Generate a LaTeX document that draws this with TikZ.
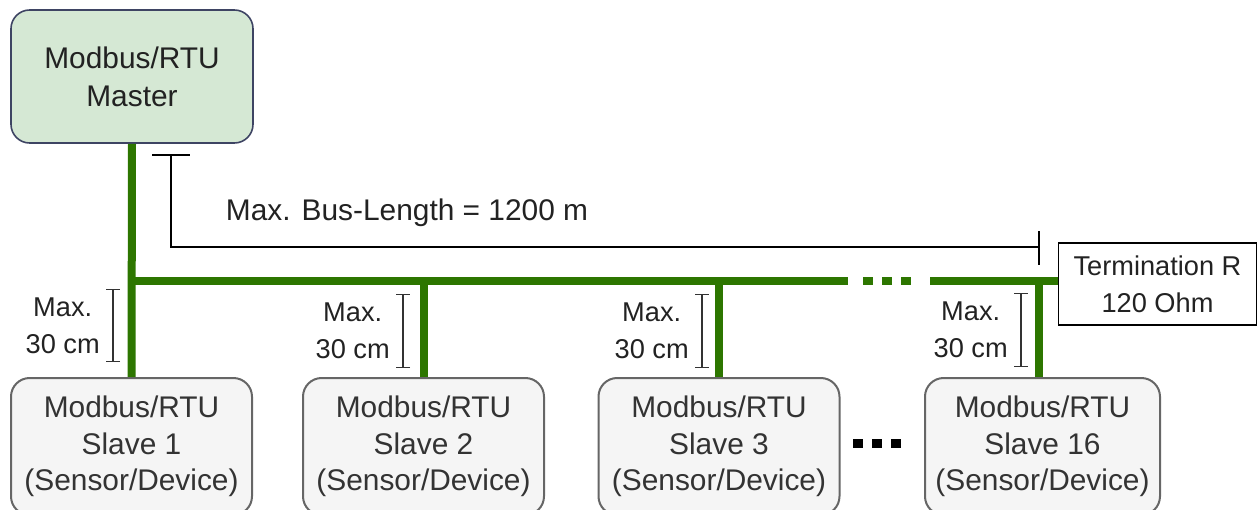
\documentclass[tikz,border=0pt]{standalone}
\usepackage{fontspec}
\setmainfont{Liberation Sans}
\usetikzlibrary{calc, positioning}
\usetikzlibrary{arrows.meta}

\definecolor{busgreen}{HTML}{2D7600}
\definecolor{masterfill}{HTML}{D5E8D4}
\definecolor{masterdraw}{HTML}{3E4463}
\definecolor{slavefill}{HTML}{F5F5F5}
\definecolor{slavedraw}{HTML}{666666}
\definecolor{txt}{HTML}{222222}

\begin{document}
\begin{tikzpicture}[x=0.75pt,y=-0.75pt,
  masterbox/.style={draw=masterdraw,fill=masterfill,line width=1.2pt,rounded corners=14pt,
    minimum width=181.5pt,minimum height=99.75pt,align=center,text=txt,
    font=\fontsize{22.4}{28.5}\selectfont},
  slavebox/.style={draw=slavedraw,fill=slavefill,line width=1.5pt,rounded corners=14pt,
    minimum width=180.75pt,minimum height=102.75pt,anchor=north,align=center,text=black!80,
    font=\fontsize{22.4}{27.4}\selectfont},
  termbox/.style={draw=black,line width=1pt,minimum width=148.5pt,minimum height=61.5pt,
    align=center,text=txt,font=\fontsize{20.4}{27.6}\selectfont},
  bus/.style={busgreen,line width=6pt},
  dimline/.style={black,line width=1.5pt},
  bracket/.style={black!80,line width=0.9pt,{Bar[width=10.5pt]}-{Bar[width=10.5pt]}},
  maxlabel/.style={align=center,inner sep=0pt,anchor=east,text=txt,
    font=\fontsize{20.4}{27.6}\selectfont}]
\useasboundingbox (0,0) rectangle (1257,510);

% boxes
\node[masterbox] (master) at (132,76.5) {Modbus/RTU\\Master};
\node[slavebox] (slave1) at (131.5,377) {Modbus/RTU\\Slave 1\\(Sensor/Device)};
\node[slavebox] (slave2) at (423.5,377) {Modbus/RTU\\Slave 2\\(Sensor/Device)};
\node[slavebox] (slave3) at (719,377) {Modbus/RTU\\Slave 3\\(Sensor/Device)};
\node[slavebox,minimum width=176.25pt] (slave16) at (1042.5,377) {Modbus/RTU\\Slave 16\\(Sensor/Device)};
\node[termbox] (term) at (1157.5,284) {Termination R\\120 Ohm};

% bus
\coordinate (busL) at (132,281);
\coordinate (gapL) at (848,281);
\coordinate (gapR) at (930,281);
\coordinate (drop16) at (1039,377);
\draw[bus] (master.south) -- (slave1.north);
\draw[bus] (busL) -- (gapL);
\draw[bus] (gapR) -- (term.west |- gapR);
\draw[bus,dash pattern=on 7.5pt off 6.75pt] ($(gapL)+(15,0)$) -- ($(gapR)+(-17,0)$);
\foreach \s in {slave2.north,slave3.north,drop16}{\draw[bus] (\s) -- (\s |- busL);}

% bus length
\coordinate (lenA) at (171,155);
\coordinate (lenB) at (1039,247);
\draw[dimline] ($(lenA)+(-19,0)$) -- ($(lenA)+(19,0)$);
\draw[dimline] (lenA) |- (lenB);
\draw[dimline] ($(lenB)+(0,-16)$) -- ($(lenB)+(0,18)$);
\node[text=txt,font=\fontsize{22.4}{26}\selectfont] (buslen) at (407,213) {Max. Bus-Length = 1200 m};

% stub lengths
\foreach \bx/\ya/\yb [count=\i] in {113/289/362,403/294/368,702/294/368,1021/293/367}{
  \coordinate (ba\i) at (\bx,\ya);
  \coordinate (bb\i) at (\bx,\yb);
  \draw[bracket] (ba\i) -- (bb\i);
  \node[maxlabel] (max\i) at ($(ba\i)!0.5!(bb\i)+(-13,0)$) {Max.\\30 cm};
}

% more slaves
\draw[black,line width=6.75pt,dash pattern=on 7.5pt off 6.75pt] (853,443) -- (903,443);
\end{tikzpicture}
\end{document}
